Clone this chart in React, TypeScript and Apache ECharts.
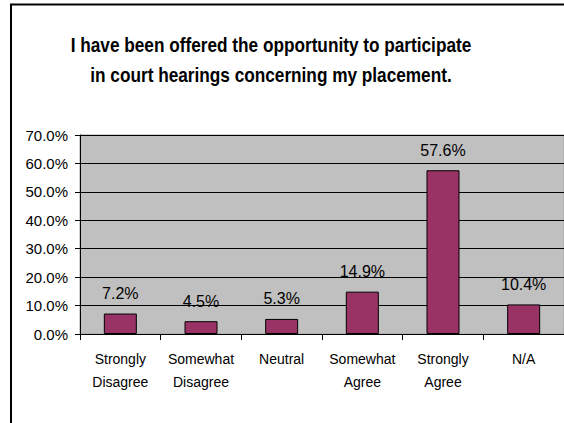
import React, { useEffect, useRef } from "react";
import * as echarts from "echarts";

const titleLines = [
  "I have been offered the opportunity to participate",
  "in court hearings concerning my placement.",
];
const categories = [
  "Strongly\nDisagree",
  "Somewhat\nDisagree",
  "Neutral",
  "Somewhat\nAgree",
  "Strongly\nAgree",
  "N/A",
];
const values = [7.2, 4.5, 5.3, 14.9, 57.6, 10.4];
const yMin = 0;
const yMax = 70;
const yStep = 10;

const FONT = '"Liberation Sans", Arial, sans-serif';

export default function App() {
  const ref = useRef<HTMLDivElement>(null);
  useEffect(() => {
    if (!ref.current) return;
    const chart = echarts.init(ref.current, null, { renderer: "svg" });
    const titleStyle = {
      fontFamily: FONT,
      fontWeight: "bold",
      fontSize: 21,
      fill: "#000",
      align: "center",
      verticalAlign: "middle",
    };
    chart.setOption({
      animation: false,
      backgroundColor: "#ffffff",
      textStyle: { fontFamily: FONT },
      graphic: [
        {
          type: "rect",
          shape: { x: 11, y: 4.5, width: 700, height: 600 },
          style: { fill: "none", stroke: "#000", lineWidth: 2 },
          z: 100,
        },
        {
          type: "text",
          x: 271,
          y: 45,
          scaleX: 0.82,
          style: { ...titleStyle, text: titleLines[0] },
        },
        {
          type: "text",
          x: 271,
          y: 75,
          scaleX: 0.82,
          style: { ...titleStyle, text: titleLines[1] },
        },
      ],
      grid: {
        left: 80,
        top: 135,
        width: 484,
        height: 199,
        show: true,
        backgroundColor: "#C0C0C0",
        borderColor: "#A0A0A0",
        borderWidth: 1,
      },
      xAxis: {
        type: "category",
        data: categories,
        axisLine: { show: true, lineStyle: { color: "#000", width: 1 } },
        axisTick: { show: true, length: 6, lineStyle: { color: "#000" } },
        axisLabel: {
          color: "#000",
          fontSize: 14,
          fontFamily: FONT,
          lineHeight: 23,
          margin: 13,
          interval: 0,
        },
      },
      yAxis: {
        type: "value",
        min: yMin,
        max: yMax,
        interval: yStep,
        axisLine: { show: true, lineStyle: { color: "#000", width: 1 } },
        axisTick: { show: true, length: 5, lineStyle: { color: "#000" } },
        axisLabel: {
          color: "#000",
          fontSize: 15,
          fontFamily: FONT,
          margin: 12,
          formatter: (v: number) => v.toFixed(1) + "%",
        },
        splitLine: { show: true, lineStyle: { color: "#000", width: 1 } },
      },
      series: [
        {
          type: "bar",
          data: values,
          barWidth: 33,
          itemStyle: { color: "#993366", borderColor: "#000", borderWidth: 1 },
          label: {
            show: true,
            position: "top",
            distance: 12,
            color: "#000",
            fontSize: 16,
            fontFamily: FONT,
            formatter: (p: any) => p.value.toFixed(1) + "%",
          },
        },
      ],
    });
    return () => chart.dispose();
  }, []);
  return (
    <div
      ref={ref}
      style={{ position: "absolute", left: 0, top: 0, width: 564, height: 423 }}
    />
  );
}
